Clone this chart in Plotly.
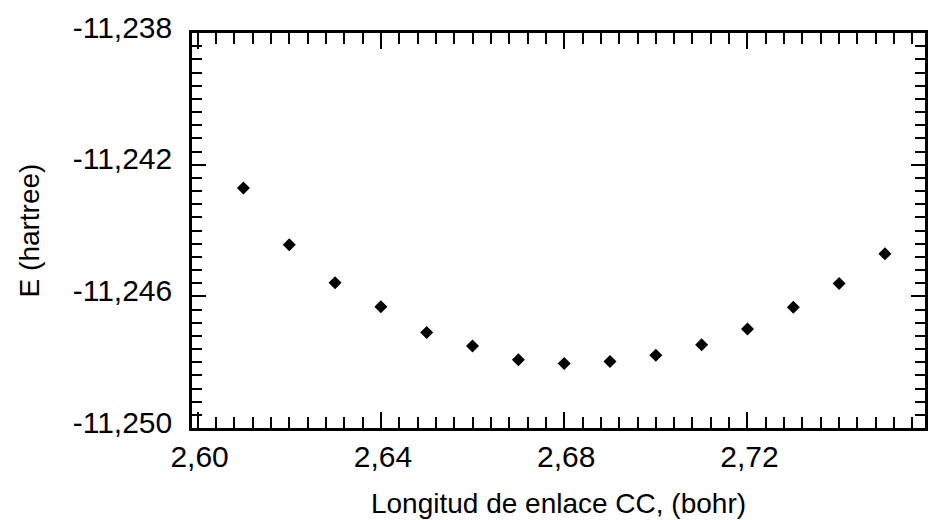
import plotly.graph_objects as go

bond_length = [2.61, 2.62, 2.63, 2.64, 2.65, 2.66, 2.67, 2.68,
               2.69, 2.70, 2.71, 2.72, 2.73, 2.74, 2.75]
energy = [-11.24271, -11.24443, -11.24559, -11.24632, -11.24710,
          -11.24751, -11.24793, -11.24804, -11.24798, -11.24779,
          -11.24747, -11.24699, -11.24633, -11.24561, -11.24471]

x_tickvals = [2.60, 2.62, 2.64, 2.66, 2.68, 2.70, 2.72, 2.74]
x_ticktext = ["2,60", "", "2,64", "", "2,68", "", "2,72", ""]
y_tickvals = [-11.250, -11.248, -11.246, -11.244, -11.242, -11.240, -11.238]
y_ticktext = ["-11,250", "", "-11,246", "", "-11,242", "", "-11,238"]

# minor tick grids (step 0.004 on x, 0.0004 on y)
x_minor = [round(2.60 + 0.004 * i, 4) for i in range(41)]
y_minor = [round(-11.250 + 0.0004 * i, 5) for i in range(31)]

FONT = "Liberation Sans, Arial, sans-serif"

fig = go.Figure()
fig.add_trace(go.Scatter(
    x=bond_length, y=energy, mode="markers",
    marker=dict(symbol="diamond", size=10, color="black"),
    showlegend=False,
))

fig.update_layout(
    width=928, height=520,
    margin=dict(l=192, r=0, t=33, b=92),
    paper_bgcolor="white", plot_bgcolor="white",
    font=dict(family=FONT, color="black"),
)

fig.update_xaxes(
    range=[2.59878, 2.75874],
    tickmode="array", tickvals=x_tickvals, ticktext=x_ticktext,
    ticks="inside", ticklen=16, tickwidth=2, tickcolor="black",
    minor=dict(tickmode="array", tickvals=x_minor, ticks="inside",
               ticklen=11, tickwidth=1.5, tickcolor="black"),
    showline=True, linecolor="black", linewidth=2.5, mirror="ticks",
    showgrid=False, zeroline=False,
    tickfont=dict(size=30, family=FONT, color="black"),
    ticklabelstandoff=0, ticklabelshift=2,
    title=dict(text="Longitud de enlace CC, (bohr)",
               font=dict(size=28, family=FONT, color="black"), standoff=22),
)

fig.update_yaxes(
    range=[-11.250, -11.238],
    tickmode="array", tickvals=y_tickvals, ticktext=y_ticktext,
    ticks="inside", ticklen=14, tickwidth=2, tickcolor="black",
    minor=dict(tickmode="array", tickvals=y_minor, ticks="inside",
               ticklen=10, tickwidth=1.5, tickcolor="black"),
    showline=True, linecolor="black", linewidth=2.5, mirror="ticks",
    showgrid=False, zeroline=False,
    tickfont=dict(size=30, family=FONT, color="black"),
    ticklabelstandoff=11, ticklabelshift=-6,
    title=dict(text="E (hartree)",
               font=dict(size=28, family=FONT, color="black"), standoff=25),
)

fig.write_html("out.html")
